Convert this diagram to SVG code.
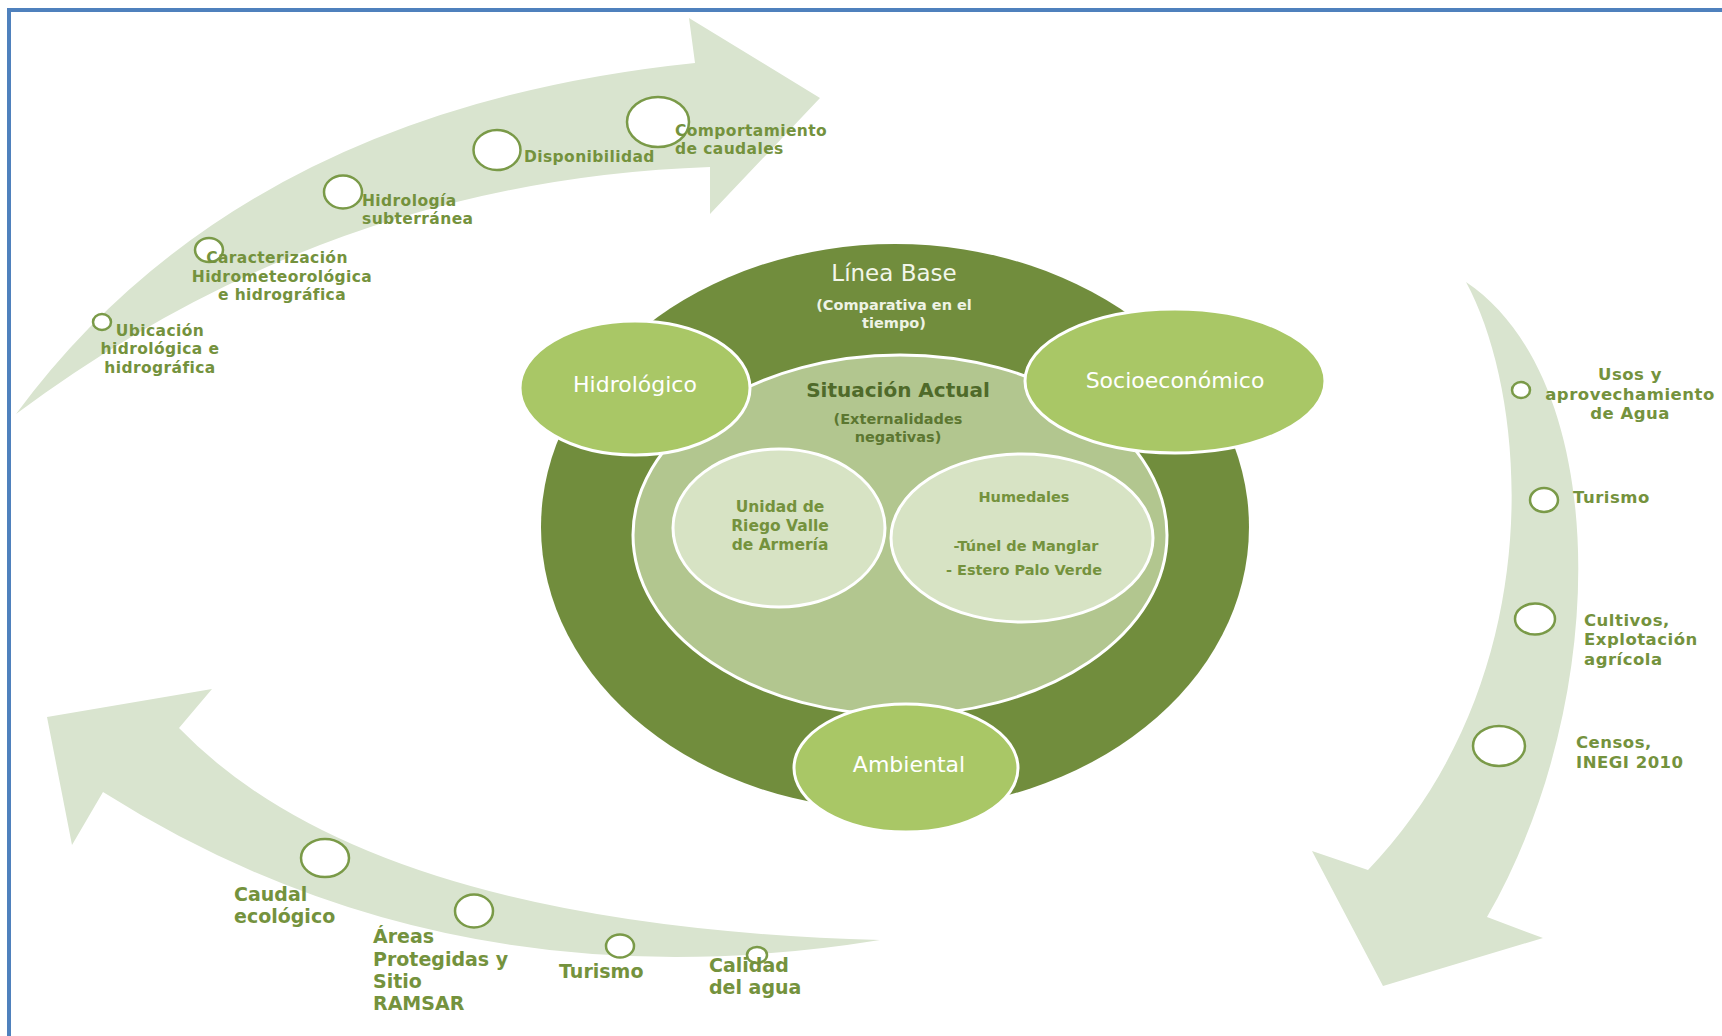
<svg xmlns="http://www.w3.org/2000/svg" width="1722" height="1036" viewBox="0 0 1722 1036">
<style>
.band{fill:#D9E4CF;stroke:none}
.mk{fill:#FFFFFF;stroke:#7A9A48;stroke-width:2.5}
.lb{font-family:"DejaVu Sans","Liberation Sans",sans-serif;font-weight:700;fill:#74923D}
.t15{font-size:15.5px;letter-spacing:0.4px}
.t16{font-size:16.5px;letter-spacing:0.5px}
.t19{font-size:19px}
.ctr{font-family:"DejaVu Sans","Liberation Sans",sans-serif;text-anchor:middle}
.big{font-family:"DejaVu Sans","Liberation Sans",sans-serif;font-size:22px;fill:#FFFFFF;text-anchor:middle}
.mid{text-anchor:middle}
</style>
<rect x="0" y="0" width="1722" height="1036" fill="#FFFFFF"/>
<g id="frame" stroke="#4F81BD" stroke-width="4" fill="none">
<line x1="7" y1="10" x2="1722" y2="10"/>
<line x1="9" y1="8" x2="9" y2="1036"/>
</g>
<g id="connectors">
<path id="arrow-top" class="band" d="M 16,414 Q 240,110 695,63 L 689,18 L 820,98 L 710,214 L 710,167 Q 330,180 16,414 Z"/>
<path id="arrow-right" class="band" d="M 1466,282 C 1612,380 1612,700 1487,917 L 1543,938 L 1383,986 L 1312,851 L 1368,870 C 1550,680 1530,400 1466,282 Z"/>
<path id="arrow-bottom" class="band" d="M 880,940 Q 370,926 179,728 L 212,689 L 47,717 L 72,845 L 103,792 Q 448,1010 880,940 Z"/>
</g>
<g id="top-items">
<g id="ubicacion"><ellipse class="mk" cx="102" cy="322" rx="9" ry="8"/>
<text class="lb t15 mid"><tspan x="160" y="336">Ubicación</tspan><tspan x="160" y="354">hidrológica e</tspan><tspan x="160" y="373">hidrográfica</tspan></text></g>
<g id="caracterizacion"><ellipse class="mk" cx="209" cy="250" rx="14" ry="12"/>
<text class="lb t15 mid"><tspan x="277" y="263">Caracterización</tspan><tspan x="282" y="282">Hidrometeorológica</tspan><tspan x="282" y="300">e hidrográfica</tspan></text></g>
<g id="hidrologia"><ellipse class="mk" cx="343" cy="192" rx="19" ry="16.5"/>
<text class="lb t15"><tspan x="362" y="206">Hidrología</tspan><tspan x="362" y="224">subterránea</tspan></text></g>
<g id="disponibilidad"><ellipse class="mk" cx="497" cy="150" rx="23.5" ry="20"/>
<text class="lb t15" x="524" y="162">Disponibilidad</text></g>
<g id="comportamiento"><ellipse class="mk" cx="658" cy="122" rx="31" ry="25"/>
<text class="lb t15"><tspan x="675" y="136">Comportamiento</tspan><tspan x="675" y="154">de caudales</tspan></text></g>
</g>
<g id="right-items">
<g id="usos"><ellipse class="mk" cx="1521" cy="390" rx="9" ry="8"/>
<text class="lb t16 mid"><tspan x="1630" y="380">Usos y</tspan><tspan x="1630" y="400">aprovechamiento</tspan><tspan x="1630" y="419">de Agua</tspan></text></g>
<g id="turismo-r"><ellipse class="mk" cx="1544" cy="500" rx="14" ry="12"/>
<text class="lb t16" x="1573" y="503">Turismo</text></g>
<g id="cultivos"><ellipse class="mk" cx="1535" cy="619" rx="20" ry="15.5"/>
<text class="lb t16"><tspan x="1584" y="626">Cultivos,</tspan><tspan x="1584" y="645">Explotación</tspan><tspan x="1584" y="665">agrícola</tspan></text></g>
<g id="censos"><ellipse class="mk" cx="1499" cy="746" rx="26" ry="20"/>
<text class="lb t16"><tspan x="1576" y="748">Censos,</tspan><tspan x="1576" y="768">INEGI 2010</tspan></text></g>
</g>
<g id="bottom-items">
<g id="caudal"><ellipse class="mk" cx="325" cy="858" rx="24" ry="19"/>
<text class="lb t19"><tspan x="234" y="901">Caudal</tspan><tspan x="234" y="923">ecológico</tspan></text></g>
<g id="areas"><ellipse class="mk" cx="474" cy="911" rx="19" ry="16.5"/>
<text class="lb t19"><tspan x="373" y="943">Áreas</tspan><tspan x="373" y="966">Protegidas y</tspan><tspan x="373" y="988">Sitio</tspan><tspan x="373" y="1010">RAMSAR</tspan></text></g>
<g id="turismo-b"><ellipse class="mk" cx="620" cy="946" rx="14" ry="11.5"/>
<text class="lb t19" x="559" y="978">Turismo</text></g>
<g id="calidad"><ellipse class="mk" cx="757" cy="955" rx="10" ry="8"/>
<text class="lb t19"><tspan x="709" y="972">Calidad</tspan><tspan x="709" y="994">del agua</tspan></text></g>
</g>
<g id="linea-base">
<ellipse cx="895" cy="527" rx="354" ry="283" fill="#718D3D"/>
<text class="ctr" x="894" y="281" font-size="23" fill="#F2F6EA">Línea Base</text>
<text class="ctr" font-size="14.5" font-weight="700" fill="#EEF3E5"><tspan x="894" y="310">(Comparativa en el</tspan><tspan x="894" y="328">tiempo)</tspan></text>
</g>
<g id="situacion-actual">
<ellipse cx="900" cy="535" rx="267" ry="180" fill="#B2C68F" stroke="#FFFFFF" stroke-width="3"/>
<text class="ctr" x="898" y="397" font-size="20" font-weight="700" fill="#4F6A2A">Situación Actual</text>
<text class="ctr" font-size="14.5" font-weight="700" fill="#5C7731"><tspan x="898" y="424">(Externalidades</tspan><tspan x="898" y="442">negativas)</tspan></text>
</g>
<g id="unidad-riego">
<ellipse cx="779" cy="528" rx="106" ry="79" fill="#D7E3C4" stroke="#FFFFFF" stroke-width="3"/>
<text class="ctr" font-size="15.5" font-weight="700" fill="#74923D"><tspan x="780" y="512">Unidad de</tspan><tspan x="780" y="531">Riego Valle</tspan><tspan x="780" y="550">de Armería</tspan></text>
</g>
<g id="humedales">
<ellipse cx="1022" cy="538" rx="131" ry="84" fill="#D7E3C4" stroke="#FFFFFF" stroke-width="3"/>
<text class="ctr" font-size="14.5" font-weight="700" fill="#74923D"><tspan x="1024" y="502">Humedales</tspan><tspan x="1026" y="551">-Túnel de Manglar</tspan><tspan x="1024" y="575">- Estero Palo Verde</tspan></text>
</g>
<g id="hidrologico">
<ellipse cx="635" cy="388" rx="115" ry="67" fill="#A9C766" stroke="#FFFFFF" stroke-width="3"/>
<text class="big" x="635" y="392">Hidrológico</text>
</g>
<g id="socioeconomico">
<ellipse cx="1175" cy="381" rx="150" ry="72" fill="#A9C766" stroke="#FFFFFF" stroke-width="3"/>
<text class="big" x="1175" y="388">Socioeconómico</text>
</g>
<g id="ambiental">
<ellipse cx="906" cy="768" rx="112" ry="64" fill="#A9C766" stroke="#FFFFFF" stroke-width="3"/>
<text class="big" x="909" y="772">Ambiental</text>
</g>
</svg>
